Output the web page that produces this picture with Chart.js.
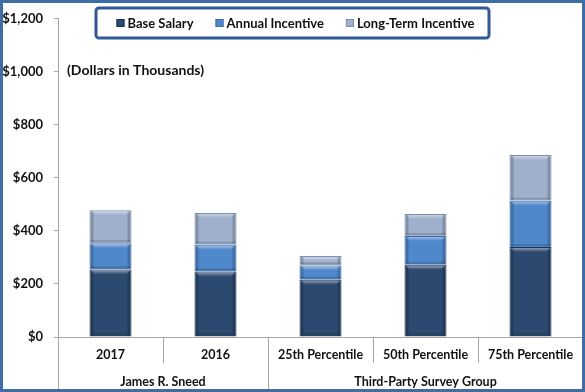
<!DOCTYPE html>
<html>
<head>
<meta charset="utf-8">
<script src="https://cdn.jsdelivr.net/npm/chart.js@4.4.1/dist/chart.umd.min.js"></script>
<style>
    html, body { margin: 0; padding: 0; background: #fff; }
    #wrap { width: 585px; height: 392px; position: relative; }
</style>
</head>
<body>
<div id="wrap"><canvas id="pay-chart"></canvas></div>
<script>
var categories = ['2017', '2016', '25th Percentile', '50th Percentile', '75th Percentile'];
var groupLabels = ['James R. Sneed', 'Third-Party Survey Group'];
var groupSizes = [2, 3];
var baseSalary = [255, 247, 216, 272, 339];
var annualIncentive = [99, 101, 54, 109, 175];
var longTermIncentive = [124, 120, 35, 83, 172];
var yTicks = [0, 200, 400, 600, 800, 1000, 1200];
var unitsNote = '(Dollars in Thousands)';

var FONT = 'Lato, "Liberation Sans", sans-serif';
Chart.defaults.font.family = FONT;
Chart.defaults.font.weight = 'bold';
Chart.defaults.font.size = 13;
Chart.defaults.color = '#111';

// soft bevel on each bar segment, like the office chart style
var bevelPlugin = {
    id: 'bevel',
    afterDatasetsDraw: function(chart) {
        var c = chart.ctx;
        c.save();
        chart.data.datasets.forEach(function(d, di) {
            chart.getDatasetMeta(di).data.forEach(function(el) {
                var p = el.getProps(['x', 'y', 'base', 'width'], true);
                var l = p.x - p.width / 2, r = p.x + p.width / 2;
                var t = Math.min(p.y, p.base), b = Math.max(p.y, p.base);
                if (b - t < 6) return;
                var g = c.createLinearGradient(0, t, 0, t + 5);
                g.addColorStop(0, 'rgba(255,255,255,0.55)');
                g.addColorStop(1, 'rgba(255,255,255,0)');
                c.fillStyle = g;
                c.beginPath();
                c.moveTo(l + 1, t + 1);
                c.lineTo(r - 1, t + 1);
                c.lineTo(r - 5, t + 5);
                c.lineTo(l + 5, t + 5);
                c.closePath();
                c.fill();
                c.fillStyle = 'rgba(0,0,0,0.18)';
                c.fillRect(l + 1, t + 1, 3, b - t - 2);
                c.fillRect(r - 4, t + 1, 3, b - t - 2);
                c.fillStyle = 'rgba(0,0,0,0.15)';
                c.fillRect(l + 1, b - 3, p.width - 2, 2);
            });
        });
        c.restore();
    }
};

// frame, legend box, group row, notes
var decorPlugin = {
    id: 'decor',
    beforeDraw: function(chart) {
        var c = chart.ctx;
        c.save();
        c.fillStyle = '#fff';
        c.fillRect(0, 0, chart.width, chart.height);
        c.restore();
    },
    afterDraw: function(chart) {
        var c = chart.ctx;
        var x = chart.scales.x;
        var area = chart.chartArea;
        var half = (x.getPixelForValue(1) - x.getPixelForValue(0)) / 2;
        c.save();

        // group separators down to the frame
        c.strokeStyle = '#a6a6a6';
        c.lineWidth = 1;
        var start = 0;
        groupSizes.forEach(function(n, g) {
            var px = Math.round(x.getPixelForValue(start) - half) + 0.5;
            c.beginPath();
            c.moveTo(px, area.bottom);
            c.lineTo(px, chart.height - 3);
            c.stroke();
            var mid = (x.getPixelForValue(start) + x.getPixelForValue(start + n - 1)) / 2;
            c.fillStyle = '#111';
            c.font = 'bold 12.5px ' + FONT;
            c.textAlign = 'center';
            c.textBaseline = 'middle';
            c.fillText(groupLabels[g], mid, 382);
            start += n;
        });

        // units note
        c.font = 'bold 14px ' + FONT;
        c.textAlign = 'left';
        c.textBaseline = 'middle';
        c.fillText(unitsNote, area.left + 9, 70);

        // legend box
        var bx = 96, by = 8, bw = 393, bh = 30;
        c.fillStyle = '#fff';
        c.strokeStyle = '#2f5a95';
        c.lineWidth = 3;
        c.beginPath();
        c.roundRect(bx, by, bw, bh, 3);
        c.fill();
        c.stroke();

        var sets = chart.data.datasets;
        c.font = 'bold 13px ' + FONT;
        var widths = sets.map(function(d) { return c.measureText(d.label).width; });
        var total = widths.reduce(function(a, b) { return a + b; }, 0) + sets.length * 11 + 22 * (sets.length - 1);
        var lx = bx + bw / 2 - total / 2 + 3;
        var ly = by + bh / 2;
        sets.forEach(function(d, i) {
            c.fillStyle = d.backgroundColor;
            c.fillRect(lx, ly - 4, 8, 8);
            c.strokeStyle = d.borderColor;
            c.lineWidth = 1;
            c.strokeRect(lx + 0.5, ly - 3.5, 7, 7);
            c.fillStyle = '#111';
            c.textAlign = 'left';
            c.fillText(d.label, lx + 11, ly + 1);
            lx += 11 + widths[i] + 22;
        });

        // outer frame
        c.strokeStyle = '#3f6da8';
        c.lineWidth = 3;
        c.strokeRect(1.5, 1.5, chart.width - 3, chart.height - 3);
        c.restore();
    }
};

var ctx = document.getElementById('pay-chart').getContext('2d');
var payChart = new Chart(ctx, {
    type: 'bar',
    data: {
        labels: categories,
        datasets: [
            { label: 'Base Salary', data: baseSalary, backgroundColor: '#2c4a70', borderColor: '#1b3354', borderWidth: 1 },
            { label: 'Annual Incentive', data: annualIncentive, backgroundColor: '#5088cc', borderColor: '#3a6aa8', borderWidth: 1 },
            { label: 'Long-Term Incentive', data: longTermIncentive, backgroundColor: '#9fb0cc', borderColor: '#7d8fae', borderWidth: 1 }
        ]
    },
    options: {
        responsive: true,
        maintainAspectRatio: false,
        animation: false,
        layout: { padding: { top: 17, right: 2, left: 0, bottom: 0 } },
        datasets: { bar: { categoryPercentage: 1, barPercentage: 0.4 } },
        plugins: {
            legend: { display: false },
            tooltip: { enabled: false }
        },
        scales: {
            x: {
                stacked: true,
                grid: { offset: true, drawOnChartArea: false, tickLength: 26, color: '#a6a6a6' },
                border: { color: '#a6a6a6' },
                ticks: { padding: -16, maxRotation: 0, autoSkip: false, color: '#111', font: { size: 12.5 } },
                afterFit: function(scale) { scale.height = 55; }
            },
            y: {
                stacked: true,
                min: 0,
                max: 1200,
                grid: { drawOnChartArea: false, tickLength: 4, color: '#a6a6a6' },
                border: { color: '#a6a6a6' },
                ticks: {
                    padding: 11,
                    color: '#111',
                    callback: function(v) { return '$' + v.toLocaleString('en-US'); }
                },
                afterBuildTicks: function(scale) {
                    scale.ticks = yTicks.map(function(v) { return { value: v }; });
                },
                afterFit: function(scale) { scale.width = 58; }
            }
        }
    },
    plugins: [bevelPlugin, decorPlugin]
});
</script>
</body>
</html>
